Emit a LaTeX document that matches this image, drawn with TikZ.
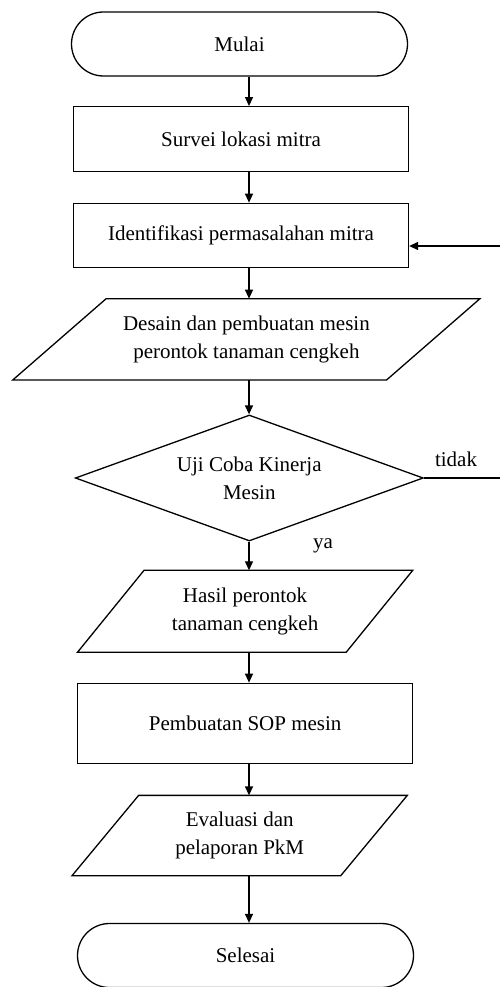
\documentclass[tikz,border=0pt]{standalone}
\usepackage{fontspec}
\setmainfont{Liberation Serif}
\usetikzlibrary{arrows.meta,shapes.geometric,calc}
\newcommand\paradraw[2]{\draw ([xshift=#2]#1.north west) -- ([xshift=#2]#1.north east) -- ([xshift=-#2]#1.south east) -- ([xshift=-#2]#1.south west) -- cycle;}
\begin{document}
\begin{tikzpicture}[x=1pt,y=-1pt,
  font=\fontsize{21}{28}\selectfont,
  line width=1.3pt,
  box/.style={draw, minimum width=335pt, inner sep=0pt, align=center},
  term/.style={draw, rounded corners=32pt, minimum width=336pt, minimum height=64pt, inner sep=0pt},
  paranode/.style={inner sep=0pt, align=center},
  flowarrow/.style={-{Triangle[length=9pt,width=8pt]}},
  decision/.style={draw, diamond, aspect=2.76, minimum width=348pt, minimum height=126pt, inner sep=0pt, align=center}
]
\useasboundingbox (0,0) rectangle (500,987);

\coordinate (axis) at (249,0);
\coordinate (fbtop) at (500,246);
\coordinate (fbbot) at (500,477.5);

\node[term] (mulai) at (239.5,44) {Mulai};
\node[box, minimum height=65pt] (survei) at (241,139.2) {Survei lokasi mitra};
\node[box, minimum height=64pt] (ident) at (241,235.3) {Identifikasi permasalahan mitra};
\node[paranode, minimum width=372.5pt, minimum height=80pt] (desain) at (246.4,339.3) {Desain dan pembuatan mesin\\perontok tanaman cengkeh};
\paradraw{desain}{46.7pt}
\node[decision] (uji) at (249.3,478) {Uji Coba Kinerja\\Mesin};
\node[paranode, minimum width=267.4pt, minimum height=80.7pt] (hasil) at (245.1,611.3) {Hasil perontok\\tanaman cengkeh};
\paradraw{hasil}{33.3pt}
\node[box, minimum height=80pt] (sop) at (245.2,723.3) {Pembuatan SOP mesin};
\node[paranode, minimum width=267.4pt, minimum height=79pt] (eval) at (239.7,835.5) {Evaluasi dan\\pelaporan PkM};
\paradraw{eval}{33.3pt}
\node[term] (selesai) at (245.5,955.5) {Selesai};

\node (tidak) at (456,459) {tidak};
\node (ya) at (323,546) {ya};

\draw[flowarrow] (axis |- mulai.south) -- (axis |- survei.north);
\draw[flowarrow] (axis |- survei.south) -- (axis |- ident.north);
\draw[flowarrow] (axis |- ident.south) -- (axis |- desain.north);
\draw[flowarrow] (axis |- desain.south) -- (axis |- uji.north);
\draw[flowarrow] (axis |- uji.south) -- (axis |- hasil.north);
\draw[flowarrow] (axis |- hasil.south) -- (axis |- sop.north);
\draw[flowarrow] (axis |- sop.south) -- (axis |- eval.north);
\draw[flowarrow] (axis |- eval.south) -- (axis |- selesai.north);

\draw (uji.east) -- (uji.east -| fbbot);
\draw[flowarrow] (fbtop) -- (fbtop -| ident.east);
\end{tikzpicture}
\end{document}
